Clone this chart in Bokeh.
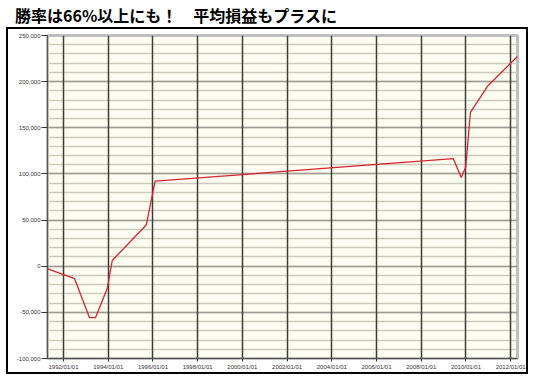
import pandas as pd
from bokeh.plotting import figure
from bokeh.models import (Div, FixedTicker, NumeralTickFormatter, DatetimeTickFormatter,
                          Range1d, SingleIntervalTicker)
from bokeh.layouts import column
from bokeh.embed import file_html
from bokeh.resources import INLINE

title_text = "勝率は66%以上にも！　平均損益もプラスに"

dates = ["1991-04-20", "1992-06-28", "1993-03-01", "1993-06-06", "1993-12-15",
         "1994-03-07", "1995-09-13", "1996-02-06", "2009-06-07", "2009-10-16",
         "2009-12-28", "2010-03-15", "2010-12-27", "2012-04-20"]
values = [-2900, -13400, -55800, -55800, -24200,
          6200, 44600, 92100, 116600, 96000,
          107600, 166600, 195600, 227200]

tick_dates = ["1992-01-01", "1994-01-01", "1996-01-01", "1998-01-01", "2000-01-01",
              "2002-01-01", "2004-01-01", "2006-01-01", "2008-01-01", "2010-01-01",
              "2012-01-01"]
x_start, x_end = "1991-04-14", "2012-04-22"
y_start, y_end, y_step = -100000, 250000, 50000


def ms(s):
    return pd.Timestamp(s).value / 1e6


xs = [ms(d) for d in dates]
tick_ms = [ms(d) for d in tick_dates]

p = figure(width=522, height=347, output_backend="svg", toolbar_location=None,
           x_axis_type="datetime",
           x_range=Range1d(ms(x_start), ms(x_end)),
           y_range=Range1d(y_start, y_end),
           min_border_left=39, min_border_right=13, min_border_top=6, min_border_bottom=18,
           background_fill_color="#FDFDF1", border_fill_color="white")
p.styles = {"border": "2px solid black"}
p.margin = (0, 0, 0, 6)

p.outline_line_color = "#BEBEBE"
p.outline_line_width = 3

p.line(xs, values, line_color="#D8242C", line_width=1.3)

# grids
p.xgrid.ticker = FixedTicker(ticks=tick_ms)
p.xgrid.grid_line_color = "#3C3C3C"
p.xgrid.grid_line_width = 1.5
p.ygrid.ticker = SingleIntervalTicker(interval=y_step, num_minor_ticks=5)
p.ygrid.grid_line_color = "#9C9C94"
p.ygrid.grid_line_width = 1.5
p.ygrid.minor_grid_line_color = "#CACABD"
p.ygrid.minor_grid_line_width = 1.5
p.center = list(p.center)[::-1]

# axes
p.xaxis.ticker = FixedTicker(ticks=tick_ms)
p.xaxis.formatter = DatetimeTickFormatter(years="%Y/%m/%d", months="%Y/%m/%d", days="%Y/%m/%d")
p.yaxis.ticker = SingleIntervalTicker(interval=y_step)
p.yaxis.formatter = NumeralTickFormatter(format="0,0")
for ax in (p.xaxis[0], p.yaxis[0]):
    ax.axis_line_color = "#555555"
    ax.axis_line_width = 1
    ax.major_tick_line_color = "#333333"
    ax.major_tick_line_width = 1
    ax.major_tick_in = 0
    ax.minor_tick_line_color = None
    ax.major_label_text_font = "Liberation Sans"
    ax.major_label_text_font_size = "6px"
    ax.major_label_text_color = "#333333"
p.yaxis.major_tick_out = 6
p.yaxis.major_label_standoff = 1
p.xaxis.major_tick_out = 3
p.xaxis.major_label_standoff = 2

title = Div(text=title_text, width=540, height=17,
            styles={"font-family": "'Noto Sans CJK JP'", "font-size": "16px",
                    "font-weight": "bold", "color": "black", "line-height": "14px",
                    "padding-left": "10px", "padding-top": "3px",
                    "box-sizing": "border-box", "overflow": "visible"})

layout = column(title, p, spacing=0)
open("out.html", "w").write(file_html(layout, INLINE))
